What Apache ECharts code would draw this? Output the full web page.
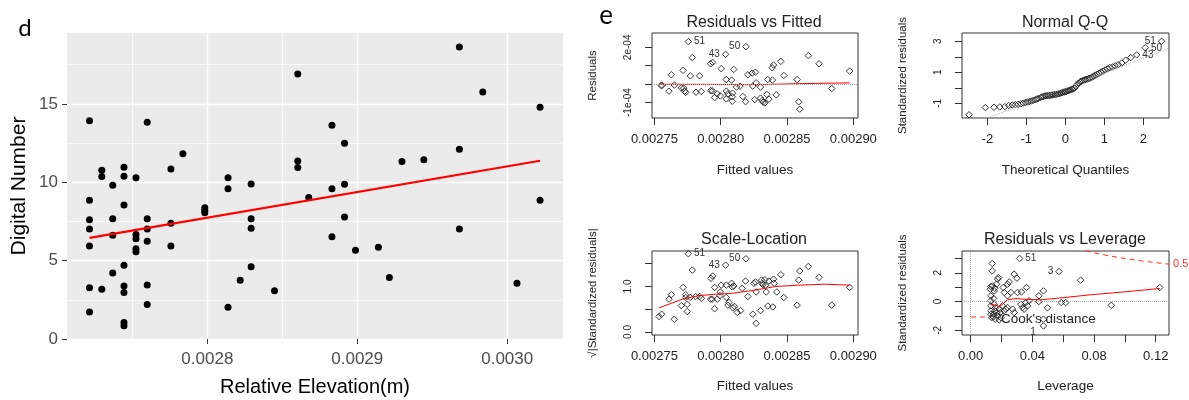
<!DOCTYPE html>
<html><head><meta charset="utf-8">
<script src="https://cdn.jsdelivr.net/npm/echarts@6/dist/echarts.min.js"></script>
<style>html,body{margin:0;padding:0;background:#fff}#c{width:1189px;height:400px}</style>
</head><body><div id="c"></div>
<script>
// ---------- Panel d : Digital Number vs Relative Elevation ----------
const dX = [
 0.0027214,0.0027214,0.0027214,0.0027214,0.0027214,0.0027214,0.0027214,
 0.0027296,0.0027296,0.0027296,
 0.0027369,0.0027369,0.0027369,0.0027369,
 0.0027444,0.0027444,0.0027444,0.0027444,0.0027444,0.0027444,0.0027444,0.0027444,
 0.0027524,0.0027524,0.0027524,0.0027524,0.0027524,
 0.0027599,0.0027599,0.0027599,0.0027599,0.0027599,0.0027599,
 0.0027757,0.0027757,0.0027757,
 0.0027837,
 0.0027983,0.0027983,0.0027983,
 0.0028138,0.0028138,0.0028138,
 0.0028219,
 0.0028292,0.0028292,0.0028292,0.0028292,
 0.0028448,
 0.0028603,0.0028603,0.0028603,
 0.0028676,
 0.0028831,0.0028831,0.0028831,
 0.0028915,0.0028915,0.0028915,
 0.0028988,0.0029141,0.0029214,0.0029298,0.0029444,
 0.0029681,0.0029681,0.0029681,
 0.0029837,0.0030065,
 0.0030219,0.0030219];
const dY = [
 13.93,8.85,7.61,7.01,5.94,3.27,1.73,
 10.77,10.36,3.18,
 9.81,7.67,6.62,4.21,
 10.96,10.38,8.55,4.70,3.38,2.97,1.05,0.85,
 10.28,6.67,6.39,5.75,5.56,
 13.83,7.67,7.01,6.24,3.44,2.20,
 10.85,7.39,5.94,
 11.82,
 8.38,8.20,8.05,
 10.28,9.59,2.03,
 3.74,
 9.89,7.67,7.07,4.61,
 3.08,
 16.90,11.35,10.94,
 9.02,
 13.63,9.59,6.52,
 12.48,9.87,7.78,
 5.66,5.85,3.93,11.33,11.43,
 18.63,12.10,7.01,
 15.75,3.55,
 14.79,8.85];
const dFitX = [0.0027214, 0.0030219];
const dFitY = [6.45, 11.37];
const dXTicks = [0.0028, 0.0029, 0.0030];
const dXTickLabels = ['0.0028', '0.0029', '0.0030'];
const dXMinor = [0.00275, 0.00285];
const dYTicks = [0, 5, 10, 15];
const dYTickLabels = ['0', '5', '10', '15'];
const dYMinor = [2.5, 7.5, 12.5, 17.5];

// ---------- Panel e : Residuals vs Fitted ----------
const rfIds = ['51', '50', '43'];
const rfX = [0.0027756,0.0028190,0.0028037,0.0027786,0.0027939,0.0027924,0.0028099,0.0028004,0.0027716,0.0027628,
 0.0027771,0.0027841,0.0028042,0.0028082,0.0028205,0.0028237,0.0028262,0.0028267,0.0028300,0.0028242,
 0.0028355,0.0028390,0.0028388,0.0028398,0.0028453,0.0028476,0.0028576,0.0028661,0.0028741,0.0028972,
 0.0028837,0.0028588,0.0028596,0.0027550,0.0027558,0.0027650,0.0027610,0.0027703,0.0027721,0.0027728,
 0.0027736,0.0027814,0.0027854,0.0027924,0.0027936,0.0027954,0.0027974,0.0027997,0.0028042,0.0028054,
 0.0028042,0.0028087,0.0028089,0.0028087,0.0028167,0.0028187,0.0028257,0.0028300,0.0028313,0.0028320,
 0.0028333,0.0028348,0.0028363,0.0028418,0.0028145,0.0028119];
const rfY = [2.31e-4,2.04e-4,1.62e-4,1.44e-4,1.18e-4,1.11e-4,0.80e-4,0.84e-4,0.75e-4,0.51e-4,
 0.45e-4,0.45e-4,0.25e-4,0.22e-4,0.51e-4,0.60e-4,0.65e-4,0.07e-4,-0.16e-4,-0.11e-4,
 0.25e-4,0.22e-4,0.89e-4,1.04e-4,1.24e-4,0.47e-4,0.25e-4,1.55e-4,1.11e-4,0.71e-4,
 -0.24e-4,-0.96e-4,-1.36e-4,-0.07e-4,-0.07e-4,-0.05e-4,-0.38e-4,-0.20e-4,-0.22e-4,-0.38e-4,
 -0.45e-4,-0.44e-4,-0.40e-4,-0.35e-4,-0.36e-4,-0.73e-4,-0.53e-4,-0.64e-4,-0.38e-4,-0.53e-4,
 -0.80e-4,-0.69e-4,-0.49e-4,-0.93e-4,-0.67e-4,-0.95e-4,-0.84e-4,-0.76e-4,-0.89e-4,-0.98e-4,
 -1.02e-4,-0.56e-4,-0.82e-4,-0.58e-4,-0.11e-4,-0.16e-4];
const rfLoX = [0.0027535,0.0027711,0.0027936,0.0028062,0.0028162,0.0028363,0.0028576,0.0028739,0.0028972];
const rfLoY = [-0.02e-5,-0.73e-6,-1.45e-6,-2.0e-6,-2.7e-6,-1.45e-6,2.5e-6,4.4e-6,7.1e-6];
const rfRef = [0];
const rfXTicks = [0.00275, 0.0028, 0.00285, 0.0029];
const rfXTickLabels = ['0.00275', '0.00280', '0.00285', '0.00290'];
const rfYTicks = [-1e-4, 0, 1e-4, 2e-4];
const rfYLabelVals = [-1e-4, 2e-4];
const rfYTickLabels = ['-1e-04', '2e-04'];

// ---------- Panel e : Normal Q-Q ----------
const qqIds = ['51', '50', '43'];
const qqIdIdx = [74, 73, 72];
const qqX = [-2.47,-2.05,-1.83,-1.68,-1.55,-1.45,-1.36,-1.28,-1.21,-1.14,-1.08,-1.02,-0.97,-0.92,-0.87,-0.82,-0.77,-0.73,-0.69,-0.64,
 -0.60,-0.56,-0.52,-0.49,-0.45,-0.41,-0.38,-0.34,-0.31,-0.27,-0.24,-0.20,-0.17,-0.13,-0.10,-0.07,-0.03,0,0.03,0.07,
 0.10,0.13,0.17,0.20,0.24,0.27,0.31,0.34,0.38,0.41,0.45,0.49,0.52,0.56,0.60,0.64,0.69,0.73,0.77,0.82,
 0.87,0.92,0.97,1.02,1.08,1.14,1.21,1.28,1.36,1.45,1.55,1.68,1.83,2.05,2.47];
const qqY = [-1.73,-1.27,-1.25,-1.23,-1.21,-1.14,-1.10,-1.08,-1.06,-1.03,-0.98,-0.94,-0.91,-0.88,-0.85,-0.80,-0.77,-0.72,-0.68,-0.63,
 -0.58,-0.55,-0.52,-0.51,-0.50,-0.49,-0.47,-0.46,-0.45,-0.43,-0.42,-0.40,-0.38,-0.35,-0.32,-0.29,-0.27,-0.25,-0.22,-0.19,
 -0.16,-0.13,-0.10,-0.07,-0.02,0.10,0.22,0.30,0.38,0.43,0.47,0.51,0.53,0.56,0.60,0.63,0.69,0.76,0.82,0.88,
 0.95,1.02,1.08,1.15,1.22,1.30,1.35,1.42,1.50,1.60,1.78,1.95,2.12,2.58,3.00];
const qqLineX = [-2.8, 2.8];
const qqLineY = [-2.72, 2.68];
const qqXTicks = [-2, -1, 0, 1, 2];
const qqXTickLabels = ['-2', '-1', '0', '1', '2'];
const qqYTicks = [-1, 0, 1, 2, 3];
const qqYLabelVals = [-1, 1, 3];
const qqYTickLabels = ['-1', '1', '3'];

// ---------- Panel e : Scale-Location ----------
const slIds = ['51', '50', '43'];
const slX = [0.0027756,0.0028190,0.0028037,0.0027786,0.0027939,0.0027926,0.0027535,0.0027555,0.0027610,0.0027628,
 0.0027650,0.0027703,0.0027716,0.0027736,0.0027736,0.0027748,0.0027748,0.0027771,0.0027811,0.0027841,
 0.0027854,0.0027924,0.0027936,0.0027954,0.0027954,0.0027974,0.0027994,0.0028004,0.0027997,0.0028042,
 0.0028042,0.0028054,0.0028062,0.0028082,0.0028087,0.0028099,0.0028104,0.0028092,0.0028124,0.0028150,
 0.0028162,0.0028187,0.0028205,0.0028242,0.0028250,0.0028262,0.0028267,0.0028267,0.0028300,0.0028308,
 0.0028313,0.0028318,0.0028333,0.0028338,0.0028343,0.0028355,0.0028363,0.0028393,0.0028398,0.0028403,
 0.0028423,0.0028453,0.0028476,0.0028576,0.0028588,0.0028596,0.0028661,0.0028741,0.0028837,0.0028972];
const slY = [1.72,1.61,1.47,1.36,1.23,1.18,0.34,0.39,0.72,0.82,
 0.28,0.58,0.98,0.82,0.76,0.61,0.45,0.76,0.78,0.78,
 0.74,0.72,0.72,0.98,0.51,0.72,0.80,1.03,0.88,1.03,
 0.76,0.59,0.65,1.07,0.99,1.01,0.56,0.53,0.43,0.47,
 0.96,1.12,0.78,0.39,1.07,1.10,0.88,0.19,0.47,1.14,
 1.07,1.04,1.15,1.03,0.88,0.57,1.12,0.55,1.16,1.07,
 0.88,1.26,0.76,0.59,1.14,1.34,1.44,1.20,0.59,0.98];
const slLoX = [0.0027535,0.0027711,0.0027836,0.0027961,0.0028087,0.0028212,0.0028338,0.0028413,0.0028588,0.0028789,0.0028972];
const slLoY = [0.53,0.72,0.80,0.83,0.85,0.90,0.96,1.00,1.03,1.05,1.03];
const slXTicks = [0.00275, 0.0028, 0.00285, 0.0029];
const slXTickLabels = ['0.00275', '0.00280', '0.00285', '0.00290'];
const slYTicks = [0, 0.5, 1.0, 1.5];
const slYLabelVals = [0, 1.0];
const slYTickLabels = ['0.0', '1.0'];

// ---------- Panel e : Residuals vs Leverage ----------
const lvIds = ['51', '3', '1'];
const lvX = [0.0317,0.0573,0.0472,0.0140,0.0140,0.0713,0.1226,0.0912,0.0588,0.0616,
 0.0498,0.0472,0.0442,0.0442,0.0472,0.0362,0.0330,0.0304,0.0282,0.0300,
 0.0250,0.0239,0.0211,0.0218,0.0181,0.0175,0.0168,0.0157,0.0153,0.0142,
 0.0131,0.0127,0.0131,0.0131,0.0131,0.0131,0.0131,0.0136,0.0149,0.0153,
 0.0164,0.0170,0.0175,0.0185,0.0207,0.0218,0.0228,0.0239,0.0325,0.0336,
 0.0347,0.0369,0.0358,0.0272,0.0282,0.0159,0.0147,0.0196,0.0185,0.0149,
 0.0157,0.0192,0.0239,0.0261,0.0379];
const lvY = [3.00,2.09,-1.70,2.65,2.14,1.49,0.98,-0.26,-0.07,-0.07,
 -0.44,0.74,0.40,0.00,-1.23,0.98,0.67,0.63,1.91,1.63,
 1.37,1.21,0.98,0.63,1.67,1.56,1.21,0.93,0.74,1.09,
 1.05,0.86,0.40,0.05,-0.30,-0.65,-0.88,-1.12,0.21,-0.19,
 -0.42,-0.77,-1.00,-0.53,-0.30,-0.65,-0.53,-0.42,-0.19,-0.42,
 -0.53,-0.30,-0.07,-0.53,-0.77,-1.23,-1.07,-1.12,-1.28,-0.88,
 -0.65,-0.77,0.40,0.63,0.05];
const lvLoX = [0.0131,0.0153,0.0185,0.0207,0.0239,0.0293,0.0347,0.0455,0.0563,0.0778,0.0994,0.1226];
const lvLoY = [-0.19,-0.23,-0.35,-0.19,0.12,0.21,0.16,0.12,0.23,0.47,0.67,0.91];
const cookX = [0.0745,0.080,0.090,0.100,0.110,0.120,0.1286];
const cookY = [3.53,3.39,3.18,3.00,2.84,2.71,2.60];
const cookLabel = '0.5';
const lvXTicks = [0, 0.02, 0.04, 0.06, 0.08, 0.10, 0.12];
const lvXLabelVals = [0, 0.04, 0.08, 0.12];
const lvXTickLabels = ['0.00', '0.04', '0.08', '0.12'];
const lvYTicks = [-2, -1, 0, 1, 2, 3];
const lvYLabelVals = [-2, 0, 2];
const lvYTickLabels = ['-2', '0', '2'];

// ---------- helpers ----------
const FONT = '"Liberation Sans", Arial, Helvetica, sans-serif';
const zip = (xs, ys) => xs.map((x, i) => [x, ys[i]]);
const fmt = (ticks, labels) => v => {
  const i = ticks.findIndex(t => Math.abs(t - v) <= 1e-9 * Math.max(1e-4, Math.abs(t)));
  return i < 0 ? '' : labels[i];
};
function idLabel(text, pos, offset) {
  return {show: true, formatter: text, position: pos, distance: 2, offset: offset || [0, 0],
    fontSize: 10, color: '#333', fontFamily: FONT};
}
function labelled(xs, ys, idxs, ids, pos, offs) {
  return xs.map((x, i) => {
    const k = idxs.indexOf(i);
    const d = {value: [x, ys[i]]};
    if (k >= 0) d.label = idLabel(ids[k], pos[k], offs ? offs[k] : null);
    return d;
  });
}
function baseX(grid, min, max, ticks, lv, ll, name, gap) {
  return {type: 'value', gridIndex: grid, min: min, max: max, axisLine: {show: false, onZero: false},
    axisTick: {show: true, length: 7, customValues: ticks, lineStyle: {color: '#333', width: 1}},
    axisLabel: {customValues: lv, formatter: fmt(lv, ll), margin: 15, fontSize: 13, color: '#222', fontFamily: FONT},
    splitLine: {show: false}, name: name, nameLocation: 'middle', nameGap: gap, nameMoveOverlap: false,
    nameTextStyle: {fontSize: 13.5, color: '#222', fontFamily: FONT}};
}
function baseY(grid, min, max, ticks, lv, ll, name, gap) {
  return {type: 'value', gridIndex: grid, min: min, max: max, axisLine: {show: false, onZero: false},
    axisTick: {show: true, length: 7, customValues: ticks, lineStyle: {color: '#333', width: 1}},
    axisLabel: {customValues: lv, formatter: fmt(lv, ll), rotate: 90, margin: 19, fontSize: 10, color: '#222', fontFamily: FONT},
    splitLine: {show: false}, name: name, nameLocation: 'middle', nameRotate: 90, nameGap: gap, nameMoveOverlap: false,
    nameTextStyle: {fontSize: 11.5, color: '#222', fontFamily: FONT}};
}
const hollow = {color: 'rgba(0,0,0,0)', borderColor: '#222', borderWidth: 0.9, opacity: 1};
function rScatter(ax, data) {
  return {type: 'scatter', xAxisIndex: ax, yAxisIndex: ax, data: data, symbol: 'diamond', symbolSize: 6.5,
    itemStyle: hollow, silent: true, z: 3};
}
function rLine(ax, data, style, extra) {
  return Object.assign({type: 'line', xAxisIndex: ax, yAxisIndex: ax, data: data, symbol: 'none', showSymbol: false,
    lineStyle: style, silent: true, z: 4, clip: true}, extra || {});
}
const boxGrid = (l, t, w, h) => ({left: l, top: t, width: w, height: h, show: true, borderColor: '#333', borderWidth: 1,
  backgroundColor: 'rgba(0,0,0,0)', containLabel: false, outerBoundsMode: 'none'});
const dotted = {color: '#aaa', type: 'dotted', width: 1};

const option = {
  animation: false,
  textStyle: {fontFamily: FONT},
  grid: [
    {left: 67, top: 33, width: 496, height: 306, show: true, backgroundColor: '#EBEBEB', borderWidth: 0, containLabel: false, outerBoundsMode: 'none'},
    boxGrid(652, 33, 206, 85),
    boxGrid(962, 33, 207, 85),
    boxGrid(652, 251, 206, 84),
    boxGrid(962, 251, 207, 84)
  ],
  xAxis: [
    {type: 'value', gridIndex: 0, min: 0.0027064, max: 0.0030372, axisLine: {show: false, onZero: false},
      axisTick: {show: true, length: 5, customValues: dXTicks, lineStyle: {color: '#333'}},
      axisLabel: {customValues: dXTicks, formatter: fmt(dXTicks, dXTickLabels), margin: 12, fontSize: 17, color: '#4d4d4d'},
      splitLine: {show: true, lineStyle: {color: '#fff', width: 1.4}},
      name: 'Relative Elevation(m)', nameLocation: 'middle', nameGap: 38, nameMoveOverlap: false,
      nameTextStyle: {fontSize: 20, color: '#000'}},
    {type: 'value', gridIndex: 0, min: 0.0027064, max: 0.0030372, axisLine: {show: false, onZero: false},
      axisTick: {show: true, length: 0, customValues: dXMinor, lineStyle: {opacity: 0}},
      axisLabel: {show: false, customValues: dXMinor},
      splitLine: {show: true, lineStyle: {color: '#fff', width: 0.7}}},
    baseX(1, 0.0027482, 0.0029035, rfXTicks, rfXTicks, rfXTickLabels, 'Fitted values', 45),
    baseX(2, -2.65, 2.66, qqXTicks, qqXTicks, qqXTickLabels, 'Theoretical Quantiles', 45),
    baseX(3, 0.0027482, 0.0029035, slXTicks, slXTicks, slXTickLabels, 'Fitted values', 44.5),
    baseX(4, -0.0056, 0.1286, lvXTicks, lvXLabelVals, lvXTickLabels, 'Leverage', 44.5)
  ],
  yAxis: [
    {type: 'value', gridIndex: 0, min: 0, max: 19.52, axisLine: {show: false, onZero: false},
      axisTick: {show: true, length: 5, customValues: dYTicks, lineStyle: {color: '#333'}},
      axisLabel: {customValues: dYTicks, formatter: fmt(dYTicks, dYTickLabels), margin: 9, fontSize: 17, color: '#4d4d4d'},
      splitLine: {show: true, lineStyle: {color: '#fff', width: 1.4}},
      name: 'Digital Number', nameLocation: 'middle', nameRotate: 90, nameGap: 37, nameMoveOverlap: false,
      nameTextStyle: {fontSize: 21, color: '#000'}},
    {type: 'value', gridIndex: 0, min: 0, max: 19.52, axisLine: {show: false, onZero: false},
      axisTick: {show: true, length: 0, customValues: dYMinor, lineStyle: {opacity: 0}},
      axisLabel: {show: false, customValues: dYMinor},
      splitLine: {show: true, lineStyle: {color: '#fff', width: 0.7}}},
    baseY(1, -1.84e-4, 2.78e-4, rfYTicks, rfYLabelVals, rfYTickLabels, 'Residuals', 53),
    baseY(2, -1.94, 3.53, qqYTicks, qqYLabelVals, qqYTickLabels, 'Standardized residuals', 53),
    baseY(3, -0.066, 1.78, slYTicks, slYLabelVals, slYTickLabels, '\u221A|Standardized residuals|', 53),
    baseY(4, -2.33, 3.52, lvYTicks, lvYLabelVals, lvYTickLabels, 'Standardized residuals', 53)
  ],
  series: [
    {type: 'scatter', xAxisIndex: 0, yAxisIndex: 0, data: zip(dX, dY), symbolSize: 7,
      itemStyle: {color: '#000', opacity: 1}, silent: true, z: 3},
    {type: 'line', xAxisIndex: 0, yAxisIndex: 0, data: zip(dFitX, dFitY), symbol: 'none', showSymbol: false,
      lineStyle: {color: '#ff0000', width: 2.2}, silent: true, z: 4},

    Object.assign(rScatter(2, labelled(rfX, rfY, [0, 1, 2], rfIds, ['right', 'left', 'left'])), {
      markLine: {silent: true, symbol: ['none', 'none'], label: {show: false}, lineStyle: dotted,
        data: rfRef.map(v => ({yAxis: v}))}}),
    rLine(2, zip(rfLoX, rfLoY), {color: '#ff0000', width: 1}),

    rScatter(3, labelled(qqX, qqY, qqIdIdx, qqIds, ['left', 'right', 'right'])),
    rLine(3, zip(qqLineX, qqLineY), dotted),

    rScatter(4, labelled(slX, slY, [0, 1, 2], slIds, ['right', 'left', 'left'])),
    rLine(4, zip(slLoX, slLoY), {color: '#ff0000', width: 1}),

    Object.assign(rScatter(5, labelled(lvX, lvY, [0, 1, 2], lvIds, ['right', 'left', 'left'], [[0, 0], [0, 0], [-2, 6]])), {
      markLine: {silent: true, symbol: ['none', 'none'], label: {show: false}, lineStyle: dotted,
        data: [{yAxis: 0}, {xAxis: 0}]}}),
    rLine(5, zip(lvLoX, lvLoY), {color: '#ff0000', width: 1}),
    rLine(5, zip(cookX, cookY), {color: '#ff3030', width: 1, type: [5, 4]},
      {endLabel: {show: true, formatter: cookLabel, color: '#ff3030', fontSize: 11, distance: 4, fontFamily: FONT}})
  ],
  graphic: [
    {type: 'text', x: 25, y: 28, style: {text: 'd', fill: '#000', font: '24px Lato, "Open Sans", sans-serif', textAlign: 'center', textVerticalAlign: 'middle', align: 'center', verticalAlign: 'middle'}},
    {type: 'text', x: 606, y: 16, style: {text: 'e', fill: '#000', font: '26px Lato, "Open Sans", sans-serif', textAlign: 'center', textVerticalAlign: 'middle', align: 'center', verticalAlign: 'middle'}},
    {type: 'text', x: 754, y: 23, style: {text: 'Residuals vs Fitted', fill: '#222', font: '16px ' + FONT, textAlign: 'center', textVerticalAlign: 'middle', align: 'center', verticalAlign: 'middle'}},
    {type: 'text', x: 1065, y: 23, style: {text: 'Normal Q-Q', fill: '#222', font: '16px ' + FONT, textAlign: 'center', textVerticalAlign: 'middle', align: 'center', verticalAlign: 'middle'}},
    {type: 'text', x: 754, y: 240, style: {text: 'Scale-Location', fill: '#222', font: '16px ' + FONT, textAlign: 'center', textVerticalAlign: 'middle', align: 'center', verticalAlign: 'middle'}},
    {type: 'text', x: 1065, y: 240, style: {text: 'Residuals vs Leverage', fill: '#222', font: '16px ' + FONT, textAlign: 'center', textVerticalAlign: 'middle', align: 'center', verticalAlign: 'middle'}},
    {type: 'line', shape: {x1: 971, y1: 317, x2: 991, y2: 317}, style: {stroke: '#ff3030', lineWidth: 1, lineDash: [5, 4]}},
    {type: 'text', x: 1001, y: 319, style: {text: "Cook's distance", fill: '#222', font: '13.5px ' + FONT, textAlign: 'left', textVerticalAlign: 'middle', align: 'left', verticalAlign: 'middle'}}
  ]
};
const chart = echarts.init(document.getElementById('c'), null, {renderer: 'canvas', width: 1189, height: 400});
chart.setOption(option);
</script>
</body></html>
